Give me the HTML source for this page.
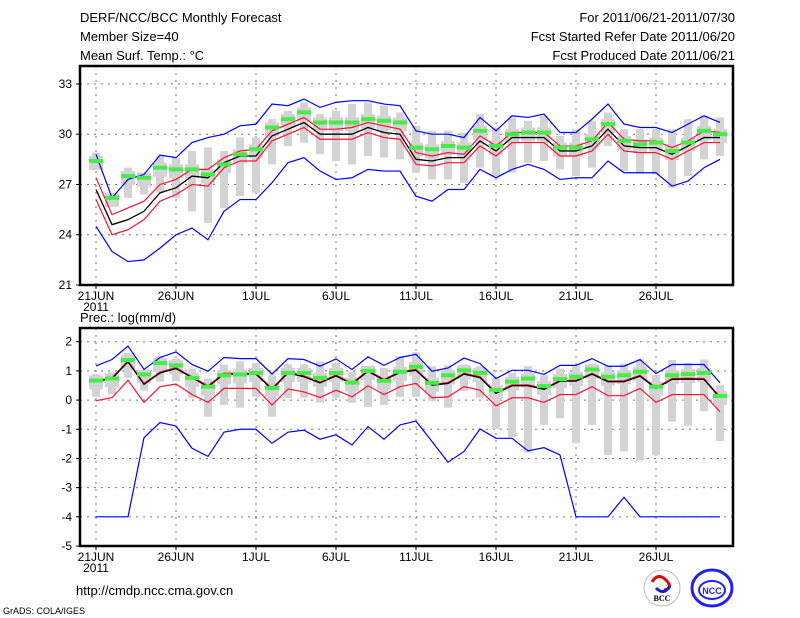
<!DOCTYPE html>
<html><head><meta charset="utf-8"><style>
body{margin:0;background:#fff;}
svg{display:block;font-family:"Liberation Sans",sans-serif;}
</style></head><body>
<svg id="chart" width="800" height="618" viewBox="0 0 800 618">
<rect width="800" height="618" fill="#fff"/>
<g font-size="13" fill="#000">
<text x="80" y="22">DERF/NCC/BCC Monthly Forecast</text>
<text x="80" y="41">Member Size=40</text>
<text x="80" y="60">Mean Surf. Temp.: °C</text>
<text x="735" y="22" text-anchor="end">For 2011/06/21-2011/07/30</text>
<text x="735" y="41" text-anchor="end">Fcst Started Refer Date 2011/06/20</text>
<text x="735" y="60" text-anchor="end">Fcst Produced Date 2011/06/21</text>
<text x="80" y="322">Prec.: log(mm/d)</text>
<text x="76" y="595">http://cmdp.ncc.cma.gov.cn</text>
<text x="3" y="614" font-size="9">GrADS: COLA/IGES</text>
</g>
<g>
<circle cx="662" cy="588" r="18" fill="#fff" stroke="#bbb"/>
<path d="M652 582 q6 -10 14 -2 q8 8 -2 10" fill="none" stroke="#e00" stroke-width="3"/>
<path d="M670 586 q-6 10 -14 2" fill="none" stroke="#12c" stroke-width="3"/>
<text x="662" y="601" font-size="8" font-family="Liberation Serif" text-anchor="middle" font-weight="bold">BCC</text>
</g>
<g>
<ellipse cx="712" cy="588" rx="20" ry="18" fill="none" stroke="#22e" stroke-width="3"/>
<ellipse cx="712" cy="590" rx="13" ry="9" fill="none" stroke="#22e" stroke-width="2"/>
<text x="712" y="594" font-size="9" font-weight="bold" fill="#22e" text-anchor="middle">NCC</text>
</g>
<g id="top"></g>
<g id="bot"></g>
</svg>
<script>
const days=["21JUN","26JUN","1JUL","6JUL","11JUL","16JUL","21JUL","26JUL"];
const tTicks=[21,24,27,30,33];
const pTicks=[2,1,0,-1,-2,-3,-4,-5];
// Temperature
const tBlueHi=[28.8,26.2,27.3,27.6,28.75,28.6,29.5,29.8,30.0,30.5,30.6,31.8,31.7,32.1,31.6,31.9,32.0,32.0,31.8,31.7,30.2,30.0,30.0,29.8,31.0,30.2,31.1,31.0,31.2,30.1,30.1,30.9,31.8,30.6,30.4,30.4,30.1,30.6,31.1,30.7];
const tBlueLo=[24.5,23.0,22.4,22.5,23.2,24.0,24.4,23.7,25.4,26.1,26.1,27.1,28.3,28.6,27.8,27.3,27.4,27.9,27.8,27.8,26.3,26.0,26.7,26.7,27.9,27.4,27.9,28.2,27.9,27.3,27.4,27.4,28.4,27.7,27.7,27.7,26.9,27.2,28.0,28.5];
const tMean=[26.7,24.6,24.9,25.4,26.5,26.8,27.5,27.4,28.3,28.7,28.7,29.9,30.3,30.7,30.0,30.0,30.0,30.4,30.1,30.0,28.5,28.4,28.6,28.6,29.6,29.0,29.8,29.8,29.8,29.0,29.0,29.3,30.3,29.3,29.2,29.2,28.8,29.3,29.8,29.8];
const tRedHi=[27.4,25.2,25.6,26.0,27.0,27.3,27.9,27.9,28.6,29.0,29.1,30.2,30.6,31.0,30.3,30.3,30.4,30.7,30.5,30.3,28.9,28.7,28.9,28.8,29.9,29.3,30.1,30.1,30.1,29.3,29.3,29.6,30.7,29.7,29.6,29.6,29.2,29.6,30.2,30.1];
const tRedLo=[26.1,24.0,24.3,24.9,26.0,26.4,27.0,26.9,28.0,28.4,28.4,29.6,30.0,30.4,29.7,29.7,29.7,30.1,29.8,29.7,28.2,28.1,28.3,28.3,29.3,28.7,29.5,29.5,29.5,28.7,28.7,29.0,30.0,29.0,28.9,28.9,28.5,29.0,29.5,29.5];
const tMed=[28.4,26.2,27.5,27.4,28.0,27.9,27.9,27.6,28.2,28.8,29.1,30.4,30.9,31.3,30.7,30.7,30.7,30.9,30.8,30.7,29.2,29.1,29.3,29.2,30.2,29.3,30.0,30.1,30.1,29.2,29.2,29.7,30.6,29.6,29.4,29.5,29.0,29.5,30.2,30.0];
const tMax=[28.9,26.4,28.0,27.7,28.7,28.6,29.0,29.2,29.0,29.8,29.8,30.9,31.4,31.9,31.2,31.4,31.8,31.9,31.7,31.3,30.5,30.2,30.2,30.1,31.2,30.4,31.0,30.8,31.1,29.9,30.3,30.8,31.3,30.3,30.3,30.3,30.3,30.9,31.1,31.0];
const tMin=[28.0,25.8,26.2,26.4,26.5,26.2,25.4,24.7,25.6,26.3,26.5,28.2,29.3,29.5,28.8,28.4,28.2,28.7,28.6,28.5,27.7,27.3,27.3,27.1,28.0,27.5,27.7,28.3,28.4,27.9,27.5,28.0,29.3,27.8,27.7,27.6,26.8,27.5,28.5,28.7];
// Precipitation
const pBlueHi=[1.17,1.39,1.85,1.05,1.46,1.65,1.22,0.99,1.46,1.42,1.42,0.89,1.42,1.39,1.16,1.41,1.05,1.48,1.19,1.46,1.57,0.99,1.10,1.44,1.25,0.74,1.02,1.02,0.88,1.19,1.19,1.42,1.16,1.16,1.39,0.91,1.22,1.22,1.22,0.59];
const pBlueLo=[-4,-4,-4,-1.29,-0.77,-0.89,-1.65,-1.93,-1.10,-1.0,-1.0,-1.48,-1.10,-1.03,-1.34,-1.19,-1.54,-0.91,-1.34,-0.85,-0.72,-1.42,-2.13,-1.76,-0.99,-1.31,-1.31,-1.74,-1.63,-1.88,-4,-4,-4,-3.33,-4,-4,-4,-4,-4,-4];
const pMean=[0.63,0.74,1.31,0.54,0.93,1.08,0.77,0.46,0.89,0.89,0.89,0.37,0.93,0.80,0.59,0.83,0.55,0.99,0.68,0.95,1.02,0.51,0.57,0.89,0.77,0.23,0.49,0.49,0.37,0.65,0.65,0.89,0.63,0.63,0.82,0.40,0.71,0.72,0.71,0.08];
const pRedHi=[0.66,0.77,1.34,0.57,0.96,1.11,0.80,0.49,0.92,0.92,0.92,0.40,0.96,0.83,0.62,0.86,0.58,1.02,0.71,0.98,1.05,0.54,0.60,0.92,0.80,0.26,0.52,0.52,0.40,0.68,0.68,0.92,0.66,0.66,0.85,0.43,0.74,0.75,0.74,0.11];
const pRedLo=[-0.02,0.08,0.68,-0.08,0.46,0.55,0.19,-0.08,0.40,0.40,0.40,-0.17,0.38,0.28,0.09,0.34,0.11,0.49,0.19,0.46,0.57,0.08,0.11,0.46,0.34,-0.20,0.08,0.08,-0.08,0.19,0.19,0.46,0.15,0.15,0.40,-0.08,0.19,0.19,0.19,-0.40];
const pMed=[0.67,0.74,1.37,0.88,1.27,1.19,0.76,0.46,0.85,0.88,0.93,0.42,0.93,0.93,0.76,0.93,0.60,1.0,0.66,0.97,1.14,0.59,0.85,1.02,0.93,0.34,0.63,0.74,0.48,0.72,0.80,1.05,0.80,0.85,0.97,0.46,0.85,0.89,0.93,0.14];
const pMax=[0.89,0.95,1.62,0.97,1.51,1.42,1.08,0.74,1.22,1.33,1.27,0.85,1.23,1.23,1.33,1.28,0.97,1.1,1.1,1.5,1.64,1.16,1.19,1.22,1.16,0.74,0.93,1.16,0.85,1.08,1.16,1.25,1.19,1.25,1.40,0.86,1.37,1.28,1.39,0.51];
const pMin=[0.11,0.20,0.76,0.32,0.63,0.65,0.08,-0.57,-0.17,-0.26,0.11,-0.57,0.08,0.08,-0.09,0.08,-0.09,-0.23,-0.17,0.11,0.11,-0.03,-0.26,0.31,0.08,-0.99,-1.27,-1.80,-0.85,-0.62,-1.48,-0.85,-1.88,-1.76,-2.07,-1.88,-0.74,-0.88,-0.38,-1.40];

const NS="http://www.w3.org/2000/svg";
function mk(p,t,a){const e=document.createElementNS(NS,t);for(const k in a)e.setAttribute(k,a[k]);p.appendChild(e);return e;}
const X0=80,X1=733;
const xd=i=>96+16*i;
function panel(g,top,bot,vTop,vBot,ticks,s){
  const y=v=>top+(vTop-v)/(vTop-vBot)*(bot-top);
  ticks.forEach(t=>{
    const gl=mk(g,'line',{x1:X0,x2:X1,y1:y(t),y2:y(t),stroke:'#777','stroke-dasharray':'2,5'});
    
    
    const tk=mk(g,'line',{x1:X0-4,x2:X0,y1:y(t),y2:y(t),stroke:'#000'});
    
    
    const tl=mk(g,'text',{x:X0-8,y:y(t)+4,'text-anchor':'end','font-size':12});
    tl.textContent=t;
    
    
  });
  days.forEach((d,k)=>{
    const x=xd(5*k);
    const gl=mk(g,'line',{x1:x,x2:x,y1:top,y2:bot,stroke:'#777','stroke-dasharray':'2,5'});
    
    
    const tk=mk(g,'line',{x1:x,x2:x,y1:bot,y2:bot+4,stroke:'#000'});
    
    
    const tl=mk(g,'text',{x:x,y:bot+15,'text-anchor':'middle','font-size':12});
    tl.textContent=d;
    
    
  });
  const yr=mk(g,'text',{x:96,y:bot+26,'text-anchor':'middle','font-size':12});
  yr.textContent='2011';
  
  
  s.max.forEach((v,i)=>{
    const w=mk(g,'rect',{x:xd(i)-4,y:y(v),width:8,height:y(s.min[i])-y(v),fill:'#d3d3d6'});
    
    
    const bx=mk(g,'rect',{x:xd(i)-7,y:y(s.med[i])-5,width:14,height:14,fill:'#d3d3d6'});
    
    
  });
  const line=(arr,col,name,w)=>{
    const p=mk(g,'polyline',{points:arr.map((v,i)=>xd(i)+','+y(v)).join(' '),fill:'none',stroke:col,'stroke-width':w});
    
    
  };
  line(s.bhi,'#0000ff','blue-upper-line',1.2);
  line(s.blo,'#0000ff','blue-lower-line',1.2);
  line(s.rhi,'#ff1030','red-upper-line',1.2);
  line(s.rlo,'#ff1030','red-lower-line',1.2);
  line(s.mean,'#000','ensemble-mean-line',1.3);
  s.med.forEach((v,i)=>{
    const m=mk(g,'rect',{x:xd(i)-7,y:y(v)-2,width:14,height:4,fill:'#44ee44'});
    
    
  });
  const fr=mk(g,'rect',{x:X0,y:top,width:X1-X0,height:bot-top,fill:'none',stroke:'#000','stroke-width':2.5});
  
  
}
const gt=document.getElementById('top');


const gb=document.getElementById('bot');


panel(gt,66,285,34.07,21,tTicks,{max:tMax,min:tMin,med:tMed,mean:tMean,bhi:tBlueHi,blo:tBlueLo,rhi:tRedHi,rlo:tRedLo});
panel(gb,328,546,2.47,-5,pTicks,{max:pMax,min:pMin,med:pMed,mean:pMean,bhi:pBlueHi,blo:pBlueLo,rhi:pRedHi,rlo:pRedLo});
</script>
</body></html>
